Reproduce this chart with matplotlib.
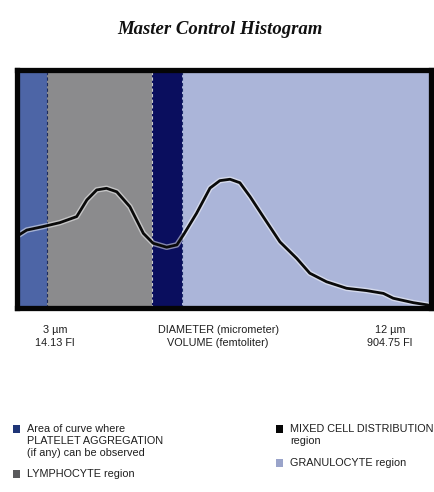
import matplotlib
matplotlib.use('Agg')
import matplotlib.pyplot as plt
from matplotlib.patches import Rectangle

# channel position (0-100 across the panel) and curve height (0-100)
curve_x = [0, 1.9, 5.9, 10.0, 14.1, 16.6, 19.0, 21.4, 23.9, 27.1, 30.4, 32.8,
           36.1, 38.6, 40.2, 43.4, 46.7, 49.1, 51.6, 54.0, 56.5, 59.7, 63.8,
           67.9, 71.1, 75.2, 80.1, 85.0, 89.1, 91.5, 96.4, 100]
curve_y = [30.2, 32.3, 33.8, 35.5, 38.1, 45.3, 49.6, 50.3, 48.8, 42.4, 30.9, 26.6,
           24.9, 25.9, 30.2, 39.5, 50.4, 53.6, 54.2, 52.7, 46.7, 38.1, 27.2,
           20.1, 13.7, 10.0, 7.2, 6.2, 5.0, 2.9, 1.0, 0]

region_names = ['platelet', 'lymphocyte', 'mixed', 'granulocyte']
region_edges = [0, 6.8, 32.5, 39.9, 100]
region_colors = ['#4d65a6', '#8b8b8d', '#0a0e5e', '#abb5d9']

left_labels = ['3 \u00b5m', '14.13 Fl']
mid_labels = ['DIAMETER (micrometer)', 'VOLUME (femtoliter)']
right_labels = ['12 \u00b5m', '904.75 Fl']

W, H = 434, 492
fig = plt.figure(figsize=(W / 100, H / 100), dpi=100)

def px(x, y):
    return x / W, 1 - y / H

# axes box in pixels
ax_l, ax_r, ax_t, ax_b = 16.5, 430.5, 70, 307.5
ax = fig.add_axes([ax_l / W, 1 - ax_b / H, (ax_r - ax_l) / W, (ax_b - ax_t) / H])
dx = 2.5 * 100 / 409
ax.set_xlim(-dx, 100 + dx)
ax.set_ylim(-2.5 / 232 * 100, 100 + 3 / 232 * 100)

for i in range(len(region_names)):
    lo = region_edges[i] if i > 0 else -dx
    hi = region_edges[i + 1] if i < len(region_names) - 1 else 100 + dx
    ax.axvspan(lo, hi, color=region_colors[i], lw=0, zorder=1)
for e, c in zip(region_edges[1:4], ['#1c2a5a', '#c8c8cc', '#1c2a6a']):
    ax.axvline(e, color=c, lw=0.8, ls=(0, (3, 2)), zorder=2)

ax.plot(curve_x, curve_y, color='white', lw=4.0, alpha=0.5, zorder=3,
        solid_capstyle='round')
ax.plot(curve_x, curve_y, color='#0a0a0a', lw=2.0, zorder=4,
        solid_joinstyle='round', solid_capstyle='round')

ax.set_xticks([])
ax.set_yticks([])
for s in ax.spines.values():
    s.set_linewidth(3.8)
    s.set_color('#050505')
    s.set_zorder(5)

fig.text(*px(220, 30), 'Master Control Histogram', ha='center', va='center',
         fontsize=13.5, family='Liberation Serif', style='italic', weight='bold',
         color='#111111')

narrow = ['Liberation Sans Narrow', 'Liberation Sans', 'DejaVu Sans']
fs = 7.8
tcol = '#1e1e1e'
for lbls, cx in [(left_labels, 55), (mid_labels, 218), (right_labels, 390)]:
    fig.text(*px(cx, 330), lbls[0], ha='center', va='center', fontsize=fs,
             family=narrow, color=tcol)
    fig.text(*px(cx, 343), lbls[1], ha='center', va='center', fontsize=fs,
             family=narrow, color=tcol)

# legend
legend_items = [
    (13, 429, '#1f3577', ['Area of curve where', 'PLATELET AGGREGATION', '(if any) can be observed']),
    (13, 474, '#5a5a5c', ['LYMPHOCYTE region']),
    (276, 429, '#050505', ['MIXED CELL DISTRIBUTION', 'region']),
    (276, 463, '#9aa4ca', ['GRANULOCYTE region']),
]
for x0, y0, col, lines in legend_items:
    bx, by = px(x0, y0 + 4)
    fig.patches.append(Rectangle((bx, by), 7 / W, 8 / H, transform=fig.transFigure,
                                 color=col, lw=0))
    for k, line in enumerate(lines):
        fig.text(*px(x0 + 14, y0 + k * 12), line, ha='left', va='center',
                 fontsize=fs, family=narrow, color=tcol)

fig.savefig('out.png', dpi=100, facecolor='white')
